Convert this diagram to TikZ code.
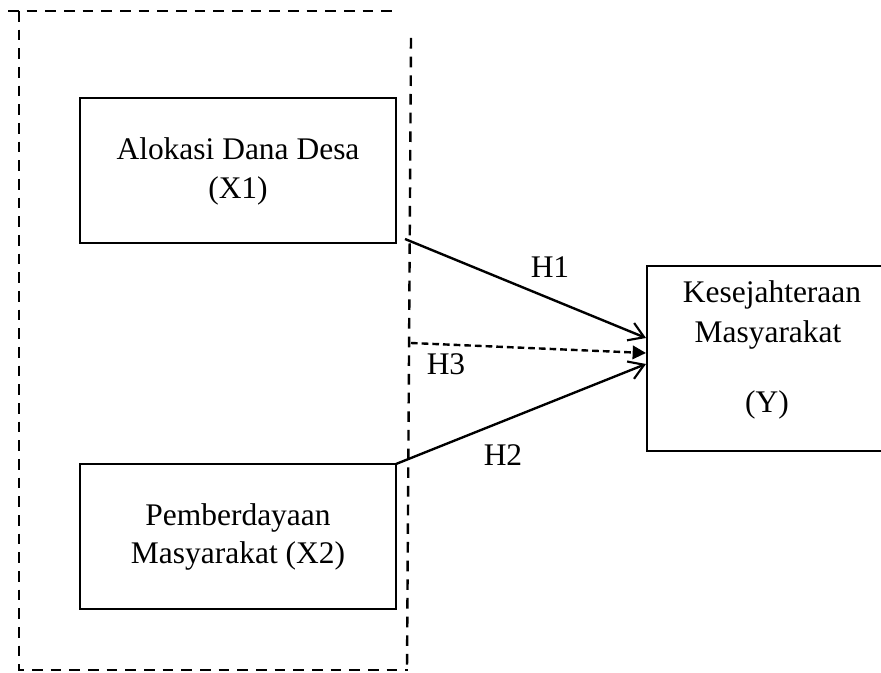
\documentclass[tikz,border=0pt]{standalone}
\usepackage{fontspec}
\setmainfont{Liberation Serif}
\usetikzlibrary{arrows.meta}
\begin{document}
\begin{tikzpicture}[x=0.75pt,y=-0.75pt,
  frame/.style={line width=1.8pt, dash pattern=on 8pt off 6pt},
  varbox/.style={draw, line width=2.2pt, rectangle, inner sep=0pt, outer sep=0pt},
  lbl/.style={font=\fontsize{23.6}{28}\selectfont, inner sep=0pt, anchor=base},
  link/.style={line width=1.8pt, -{Straight Barb[length=11pt,width=14pt,line width=1.6pt]}},
  modlink/.style={line width=1.8pt, dash pattern=on 5pt off 3pt, -{Triangle[length=10pt,width=10pt]}}]
\useasboundingbox (0,0) rectangle (881,673);
\clip (0,0) rectangle (881,673);
% dashed frame
\coordinate (ftl) at (8,11);
\coordinate (ftr) at (393,11);
\coordinate (fl) at (19,11);
\coordinate (fbl) at (19,670);
\coordinate (fbr) at (408,670);
\coordinate (frt) at (411,38);
\coordinate (frb) at (407,670);
\draw[frame] (ftl) -- (ftr);
\draw[frame] (fl) -- (fbl) -- (fbr);
\draw[frame] (frt) -- (frb);
% boxes
\node[varbox, minimum width=237pt, minimum height=108.75pt] (x1) at (238,170.5) {};
\node[varbox, minimum width=237pt, minimum height=108.75pt] (x2) at (238,536.5) {};
\node[varbox, minimum width=189.75pt, minimum height=138.75pt] (y) at (773.5,358.5) {};
% texts
\node[lbl] (t1a) at (238,160) {Alokasi Dana Desa};
\node[lbl] (t1b) at (238,199) {(X1)};
\node[lbl] (t2a) at (238,525) {Pemberdayaan};
\node[lbl] (t2b) at (238,563) {Masyarakat (X2)};
\node[lbl] (tya) at (772,303) {Kesejahteraan};
\node[lbl] (tyb) at (768,343) {Masyarakat};
\node[lbl] (tyc) at (767,412) {(Y)};
% connectors
\coordinate (h1s) at (405,239);
\coordinate (h1e) at (646,338);
\coordinate (h3s) at (411,343);
\coordinate (h3e) at (646,353);
\coordinate (h2e) at (646,364);
\draw[link] (h1s) -- (h1e);
\draw[modlink] (h3s) -- (h3e);
\draw[link] (x2.north east) -- (h2e);
\node[lbl] (lh1) at (550,278) {H1};
\node[lbl] (lh3) at (446,374) {H3};
\node[lbl] (lh2) at (503,465) {H2};
\end{tikzpicture}
\end{document}
